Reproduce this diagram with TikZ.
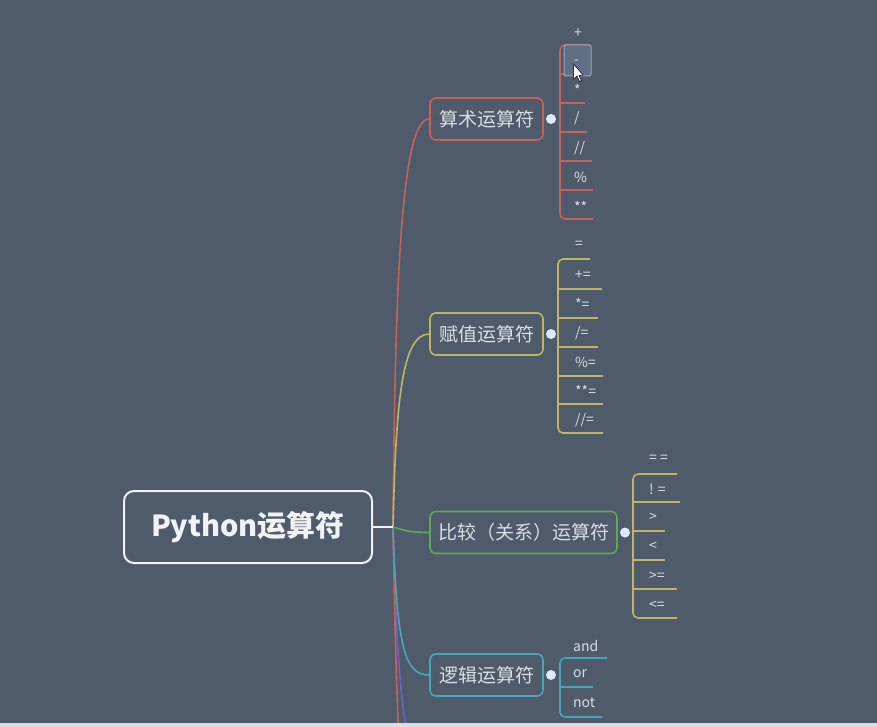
\documentclass[tikz,border=0pt]{standalone}
\usepackage{fontspec}
\setmainfont{Noto Sans CJK SC}
\definecolor{bg}{RGB}{79,90,106}
\definecolor{cred}{RGB}{196,98,92}
\definecolor{cyel}{RGB}{190,182,100}
\definecolor{cgrn}{RGB}{96,166,96}
\definecolor{ccya}{RGB}{74,166,182}
\definecolor{cpur}{RGB}{112,96,196}
\definecolor{ctxt}{RGB}{218,222,228}
\definecolor{cdot}{RGB}{222,232,255}
\definecolor{strip}{RGB}{220,221,225}
\definecolor{hilite}{RGB}{98,114,136}
\definecolor{hiliteb}{RGB}{150,166,188}
\tikzset{
  topic/.style={draw=#1, line width=1.6pt, rounded corners=6pt, fill=bg, text=ctxt,
    minimum height=42pt, inner sep=0pt, font=\fontsize{19}{19}\selectfont},
  rootbox/.style={draw=white!92!bg, line width=2pt, rounded corners=10pt, fill=bg, text=white!92!bg,
    minimum width=248pt, minimum height=72pt, inner sep=0pt, font=\fontsize{29}{29}\selectfont\bfseries},
  branch/.style={draw=#1, line width=1.6pt},
  leaf/.style={anchor=west, text=ctxt, inner sep=0pt, font=\fontsize{14}{14}\selectfont},
  under/.style={draw=#1, line width=1.6pt, rounded corners=5pt},
  knob/.style={circle, fill=cdot, minimum size=10pt, inner sep=0pt}
}
\begin{document}
\begin{tikzpicture}[x=1pt,y=-1pt]
\fill[bg] (0,0) rectangle (877,727);
\useasboundingbox (0,0) rectangle (877,727);

% root and junction
\node[rootbox] (root) at (248,527) {Python运算符};
\coordinate (J) at (393,527);
\coordinate (redend) at (399,745);
\coordinate (purend) at (409,745);

% topics
\node[topic=cred, minimum width=113pt] (t1) at (486.5,119) {算术运算符};
\node[topic=cyel, minimum width=113pt] (t2) at (486.5,334) {赋值运算符};
\node[topic=cgrn, minimum width=187pt] (t3) at (523.5,532.5) {比较（关系）运算符};
\node[topic=ccya, minimum width=113pt] (t4) at (486.5,675) {逻辑运算符};

% branches
\draw[branch=cpur] (J) .. controls (396,640) and (400,700) .. (purend);
\draw[branch=cred] (J) .. controls (395,640) and (397,700) .. (redend);
\draw[branch=cred] (J) .. controls (395,300) and (400,118) .. (t1.west);
\draw[branch=cyel] (J) .. controls (396,400) and (402,334) .. (t2.west);
\draw[branch=cgrn] (J) .. controls (410,532) .. (t3.west);
\draw[branch=ccya] (J) .. controls (397,650) and (405,675) .. (t4.west);
\draw[line width=2pt, draw=white!92!bg] (root.east) -- (J);

% ---- arithmetic children
\draw[under=cred] (590,45) -| (560,219) -- (593,219);
\foreach \y/\e in {74/585,103/585,132/587,161/592,190/593}{
  \draw[under=cred] (560,\y) -- (\e,\y);
}
\fill[hilite, opacity=0.9] (564,45) rectangle (591,76);
\draw[hiliteb, line width=1pt, rounded corners=2pt] (564,45) rectangle (591,76);
\node[leaf] (a1) at (574,33) {+};
\node[leaf] (a2) at (574,62) {-};
\node[leaf] (a3) at (574,90) {*};
\node[leaf] (a4) at (574,118) {/};
\node[leaf] (a5) at (574,148) {//};
\node[leaf] (a6) at (574,177) {\%};
\node[leaf] (a7) at (574,207) {**};
% mouse cursor
\filldraw[fill=white, draw=black, line width=0.5pt] (573.5,64) -- (573.5,79) -- (577,76) -- (579.5,81.5) -- (581.5,80.5) -- (579,75.5) -- (583,75) -- cycle;

% ---- assignment children
\draw[under=cyel] (590,259) -| (558,433) -- (603,433);
\foreach \y/\e in {289/602,318/598,347/598,376/603,404/603}{
  \draw[under=cyel] (558,\y) -- (\e,\y);
}
\node[leaf] (b1) at (575,245) {=};
\node[leaf] (b2) at (575,275) {+=};
\node[leaf] (b3) at (575,304) {*=};
\node[leaf] (b4) at (575,333) {/=};
\node[leaf] (b5) at (575,362) {\%=};
\node[leaf] (b6) at (575,391) {**=};
\node[leaf] (b7) at (575,420) {//=};

% ---- comparison children
\draw[under=cyel] (677,474) -| (633,618) -- (677,618);
\foreach \y/\e in {502/680,531/665,560/665,589/677}{
  \draw[under=cyel] (633,\y) -- (\e,\y);
}
\node[leaf] (c1) at (649,459) {= =};
\node[leaf] (c2) at (649,489) {! =};
\node[leaf] (c3) at (649,517) {>};
\node[leaf] (c4) at (649,546) {<};
\node[leaf] (c5) at (649,576) {>=};
\node[leaf] (c6) at (649,605) {<=};

% ---- logic children
\draw[under=ccya] (607,658) -| (560,717) -- (602,717);
\draw[under=ccya] (560,687) -- (593,687);
\node[leaf] (d1) at (573,646) {and};
\node[leaf] (d2) at (573,674) {or};
\node[leaf] (d3) at (573,703) {not};

% knobs
\node[knob] (k1) at (551,119) {};
\node[knob] (k2) at (551,334) {};
\node[knob] (k3) at (625,532.5) {};
\node[knob] (k4) at (551,675) {};

% bottom strip
\fill[strip] (0,723) rectangle (877,727);
\end{tikzpicture}
\end{document}
